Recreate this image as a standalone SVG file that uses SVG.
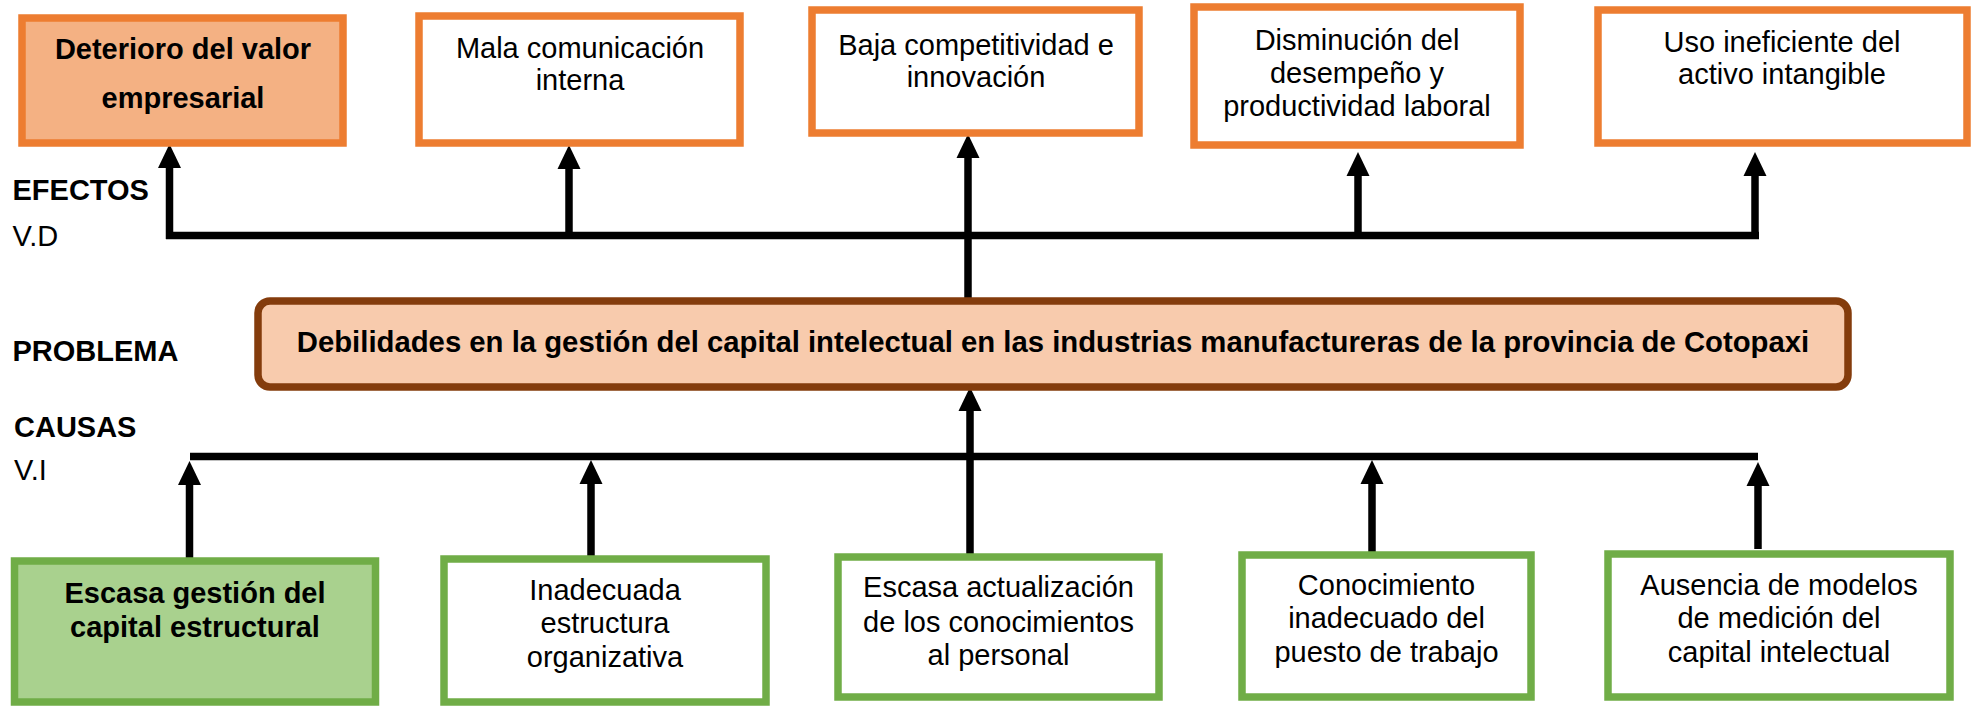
<svg xmlns="http://www.w3.org/2000/svg" width="1977" height="706" viewBox="0 0 1977 706">
<defs>
<style>
.eff{fill:#FFFFFF;stroke:#ED7D31;stroke-width:7.5}
.effh{fill:#F4B183;stroke:#ED7D31;stroke-width:7.5}
.cau{fill:#FFFFFF;stroke:#70AD47;stroke-width:7.5}
.cauh{fill:#A9D18E;stroke:#70AD47;stroke-width:7.5}
.prob{fill:#F8CBAD;stroke:#843C0C;stroke-width:7.5}
text{font-family:"Liberation Sans",Arial,sans-serif;font-size:29px;fill:#000000}
.c{text-anchor:middle}
.b{font-weight:bold}
.pt{font-size:29.3px}
.ln{stroke:#000000;stroke-width:7.5;fill:none}
.ah{fill:#000000}
</style>
</defs>
<rect width="1977" height="706" fill="#FFFFFF"/>

<g id="labels">
<text class="b" x="12.5" y="200">EFECTOS</text>
<text x="12.5" y="246">V.D</text>
<text class="b" x="12.5" y="361">PROBLEMA</text>
<text class="b" x="14" y="437">CAUSAS</text>
<text x="14" y="480">V.I</text>
</g>

<g id="connectors">
<path class="ln" d="M166 235.5 H1759"/>
<path class="ln" d="M169.5 239 V166"/>
<polygon class="ah" points="169.5,144 158,168 181,168"/>
<path class="ln" d="M569 239 V167"/>
<polygon class="ah" points="569,145 557.5,169 580.5,169"/>
<path class="ln" d="M968 303 V156"/>
<polygon class="ah" points="968,134 956.5,158 979.5,158"/>
<path class="ln" d="M1358 239 V174"/>
<polygon class="ah" points="1358,152 1346.5,176 1369.5,176"/>
<path class="ln" d="M1755 239 V174"/>
<polygon class="ah" points="1755,152 1743.5,176 1766.5,176"/>

<path class="ln" d="M190 456.5 H1758"/>
<path class="ln" d="M189.5 560 V483"/>
<polygon class="ah" points="189.5,461 178,485 201,485"/>
<path class="ln" d="M591 557 V482"/>
<polygon class="ah" points="591,460 579.5,484 602.5,484"/>
<path class="ln" d="M970 557 V408"/>
<polygon class="ah" points="970,387 958.5,411 981.5,411"/>
<path class="ln" d="M1372 555 V482"/>
<polygon class="ah" points="1372,460 1360.5,484 1383.5,484"/>
<path class="ln" d="M1758 549 V484"/>
<polygon class="ah" points="1758,462 1746.5,486 1769.5,486"/>
</g>

<g id="efecto1">
<rect class="effh" x="22" y="18" width="321" height="125"/>
<text class="c b" x="183" y="59">Deterioro del valor</text>
<text class="c b" x="183" y="108">empresarial</text>
</g>
<g id="efecto2">
<rect class="eff" x="419" y="16" width="321" height="127"/>
<text class="c" x="580" y="58">Mala comunicación</text>
<text class="c" x="580" y="90">interna</text>
</g>
<g id="efecto3">
<rect class="eff" x="812" y="10" width="327" height="123"/>
<text class="c" x="976" y="55">Baja competitividad e</text>
<text class="c" x="976" y="87">innovación</text>
</g>
<g id="efecto4">
<rect class="eff" x="1194" y="7" width="326" height="138"/>
<text class="c" x="1357" y="50">Disminución del</text>
<text class="c" x="1357" y="83">desempeño y</text>
<text class="c" x="1357" y="116">productividad laboral</text>
</g>
<g id="efecto5">
<rect class="eff" x="1598" y="10" width="369" height="133"/>
<text class="c" x="1782" y="52">Uso ineficiente del</text>
<text class="c" x="1782" y="84">activo intangible</text>
</g>

<g id="problema">
<rect class="prob" x="258" y="301" width="1590" height="86" rx="12" ry="12"/>
<text class="c b pt" x="1053" y="352">Debilidades en la gestión del capital intelectual en las industrias manufactureras de la provincia de Cotopaxi</text>
</g>

<g id="causa1">
<rect class="cauh" x="14.5" y="561" width="361" height="141"/>
<text class="c b" x="195" y="603">Escasa gestión del</text>
<text class="c b" x="195" y="637">capital estructural</text>
</g>
<g id="causa2">
<rect class="cau" x="444" y="559" width="322" height="143"/>
<text class="c" x="605" y="600">Inadecuada</text>
<text class="c" x="605" y="633">estructura</text>
<text class="c" x="605" y="667">organizativa</text>
</g>
<g id="causa3">
<rect class="cau" x="838" y="557" width="321" height="140"/>
<text class="c" x="998.5" y="597">Escasa actualización</text>
<text class="c" x="998.5" y="632">de los conocimientos</text>
<text class="c" x="998.5" y="665">al personal</text>
</g>
<g id="causa4">
<rect class="cau" x="1242" y="555" width="289" height="142"/>
<text class="c" x="1386.5" y="595">Conocimiento</text>
<text class="c" x="1386.5" y="628">inadecuado del</text>
<text class="c" x="1386.5" y="662">puesto de trabajo</text>
</g>
<g id="causa5">
<rect class="cau" x="1608" y="554" width="342" height="143"/>
<text class="c" x="1779" y="595">Ausencia de modelos</text>
<text class="c" x="1779" y="628">de medición del</text>
<text class="c" x="1779" y="662">capital intelectual</text>
</g>
</svg>
